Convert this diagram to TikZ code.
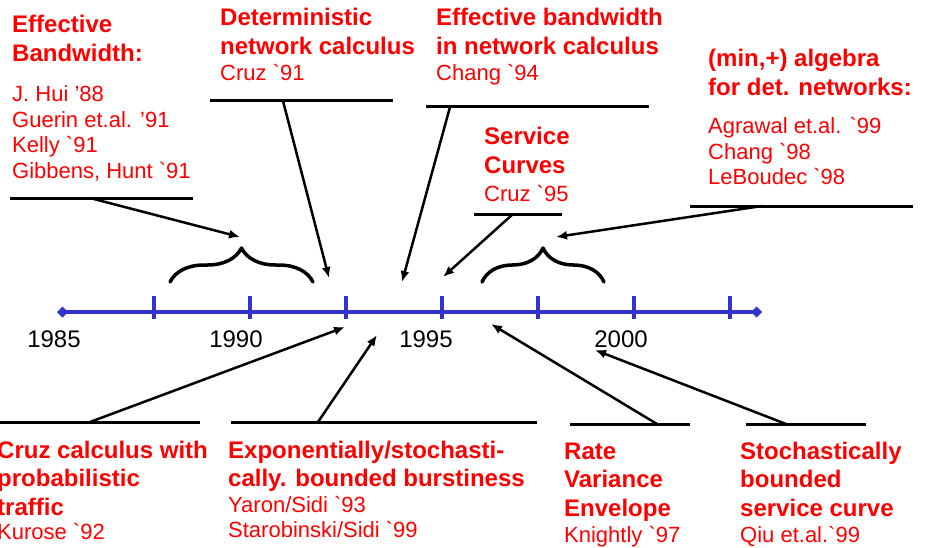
\documentclass[tikz,border=0pt]{standalone}
\usepackage{fontspec}
\setmainfont{Liberation Sans}
\usetikzlibrary{arrows.meta,decorations.pathreplacing}
\definecolor{ejeazul}{RGB}{51,51,204}
\tikzset{
  titulo/.style={anchor=base west, inner sep=0pt, text=red,
    font=\fontsize{24}{28.5}\selectfont\bfseries},
  refs/.style={anchor=base west, inner sep=0pt, text=red,
    font=\fontsize{22}{25.5}\selectfont},
  raya/.style={line width=3pt},
  flecha/.style={line width=2.5pt, -{Latex[length=11pt,width=9pt]}},
  llave/.style={line width=3.5pt, line cap=round, decorate, decoration={brace, amplitude=34pt}},
}
\newcommand{\acento}{\textasciigrave}
\newcommand{\renglones}[1]{\begin{tabular}[t]{@{}l@{}}#1\end{tabular}}
\begin{document}
\begin{tikzpicture}[x=1pt, y=-1pt, line join=round]
  \useasboundingbox (0,0) rectangle (928,548);
  % el eje de los anos
  \coordinate (izq) at (57,312);
  \coordinate (der) at (762,312);
  \draw[ejeazul, line width=4pt, {Diamond[length=11pt,width=11pt]}-{Diamond[length=11pt,width=11pt]}] (izq) -- (der);
  \foreach \x in {154,250,346,442,538,634,730} {
    \draw[ejeazul, line width=3.5pt] (\x,296) -- (\x,319);
  }
  \foreach \x/\a in {54/1985, 236/1990, 426/1995, 621/2000} {
    \node[anchor=base, inner sep=0pt, font=\fontsize{24}{24}\selectfont] (y\a) at (\x,347) {\a};
  }
  % las llaves
  \draw[llave] (170,282) -- (313,282);
  \draw[llave] (482,282) -- (604,282);
  % arriba: textos
  \node[titulo] (ebT) at (12,33) {\renglones{Effective\\Bandwidth:}};
  \node[refs] (ebR) at (12,102) {\renglones{J. Hui '88\\Guerin et.al. '91\\Kelly \acento91\\Gibbens, Hunt \acento91}};
  \node[titulo] (dnT) at (220,26) {\renglones{Deterministic\\network calculus}};
  \node[refs] (dnR) at (220,81) {Cruz \acento91};
  \node[titulo] (ncT) at (436,26) {\renglones{Effective bandwidth\\in network calculus}};
  \node[refs] (ncR) at (436,81) {Chang \acento94};
  \node[titulo] (scT) at (484,145) {\renglones{Service\\Curves}};
  \node[refs] (scR) at (484,201) {Cruz \acento95};
  \node[titulo] (mpT) at (708,67) {\renglones{(min,+) algebra\\for det. networks:}};
  \node[refs] (mpR) at (708,134) {\renglones{Agrawal et.al. \acento99\\Chang \acento98\\LeBoudec \acento98}};
  % abajo: textos
  \node[titulo] (ccT) at (-3,458) {\renglones{Cruz calculus with\\probabilistic\\traffic}};
  \node[refs] (ccR) at (-3,539) {Kurose \acento92};
  \node[titulo] (exT) at (228,458) {\renglones{Exponentially/stochasti-\\cally. bounded burstiness}};
  \node[refs] (exR) at (228,512) {\renglones{Yaron/Sidi \acento93\\Starobinski/Sidi \acento99}};
  \node[titulo] (rvT) at (564,459) {\renglones{Rate\\Variance\\Envelope}};
  \node[refs] (rvR) at (564,542) {Knightly \acento97};
  \node[titulo] (sbT) at (740,459) {\renglones{Stochastically\\bounded\\service curve}};
  \node[refs] (sbR) at (740,542) {Qiu et.al.\acento99};
  % las rayas de debajo y de encima, con el pie de cada flecha
  \foreach \n/\a/\b/\y/\p in {eb/10/193/198/90, dn/210/393/101/283, nc/426/649/107/450,
                              sc/474/562/214/513, mp/690/913/206/762,
                              cc/0/200/422/90, ex/231/537/422/318,
                              rv/570/690/424/657, sb/746/866/424/786} {
    \coordinate (\n1) at (\a,\y);
    \coordinate (\n2) at (\b,\y);
    \coordinate (\n0) at (\p,\y);
    \draw[raya] (\n1) -- (\n2);
  }
  % las puntas
  \coordinate (ebP) at (240,237);
  \coordinate (dnP) at (329,278);
  \coordinate (ncP) at (402,282);
  \coordinate (scP) at (443,277);
  \coordinate (mpP) at (556,237);
  \coordinate (ccP) at (345,327);
  \coordinate (exP) at (377,335);
  \coordinate (rvP) at (491,324);
  \coordinate (sbP) at (595,350);
  \foreach \n in {eb,dn,nc,sc,mp,cc,ex,rv,sb} {
    \draw[flecha] (\n0) -- (\n P);
  }
\end{tikzpicture}
\end{document}
